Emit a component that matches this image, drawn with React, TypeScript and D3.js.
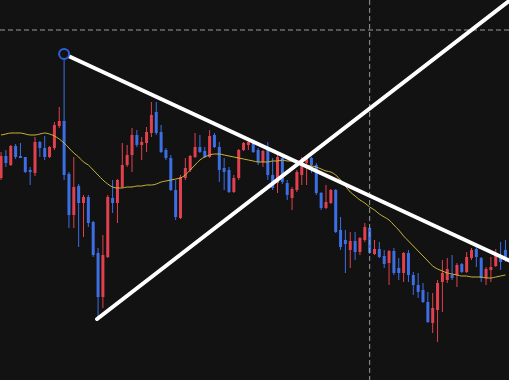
import React from "react";
import * as d3 from "d3";

// Candle data (price units), one entry per bar index
const opens = [
  222, 244, 235, 254, 244, 243, 230, 227, 258, 252,
  243, 252, 274, 279, 226, 185, 214, 197, 203, 178,
  147, 103, 143, 202, 197, 213, 235, 245, 265, 255,
  257, 267, 288, 268, 250, 242, 210, 182, 222, 230,
  243, 253, 249, 243, 265, 253, 232, 230, 208, 222,
  250, 255, 257, 250, 238, 250, 225, 217, 242, 217,
  202, 210, 225, 237, 242, 235, 207, 192, 197, 210,
  170, 160, 150, 159, 148, 160, 172, 146, 151, 144,
  137, 149, 132, 127, 147, 125, 115, 110, 98, 77,
  90, 118, 120, 125, 125, 136, 128, 142, 151, 142,
  122, 130, 134, 143, 150,
];
const closes = [
  244, 237, 254, 243, 242, 228, 228, 258, 252, 243,
  253, 275, 279, 225, 185, 213, 197, 203, 177, 145,
  103, 145, 203, 197, 220, 235, 245, 265, 255, 258,
  268, 285, 267, 248, 242, 210, 183, 223, 232, 244,
  253, 248, 243, 264, 253, 230, 228, 208, 222, 250,
  257, 258, 248, 238, 249, 225, 212, 243, 218, 205,
  211, 228, 240, 242, 235, 207, 192, 198, 210, 168,
  153, 156, 159, 148, 162, 173, 147, 151, 143, 136,
  149, 127, 127, 147, 125, 115, 108, 98, 78, 92,
  117, 127, 131, 122, 135, 128, 143, 150, 143, 122,
  131, 133, 145, 138, 143,
];
const highs = [
  248, 250, 255, 256, 257, 243, 233, 263, 259, 264,
  254, 278, 293, 346, 228, 243, 216, 205, 205, 179,
  152, 165, 205, 220, 221, 257, 255, 272, 270, 263,
  273, 298, 298, 275, 252, 245, 220, 225, 242, 245,
  267, 265, 253, 270, 267, 258, 242, 233, 225, 251,
  258, 260, 258, 252, 250, 258, 242, 245, 243, 220,
  213, 230, 243, 244, 243, 237, 208, 215, 211, 211,
  183, 170, 168, 168, 163, 177, 173, 160, 158, 150,
  150, 152, 142, 148, 150, 128, 127, 117, 108, 107,
  120, 140, 142, 145, 137, 137, 148, 152, 153, 143,
  133, 143, 151, 158, 160,
];
const lows = [
  220, 233, 234, 241, 242, 227, 215, 224, 243, 240,
  242, 250, 272, 220, 172, 172, 153, 163, 173, 143,
  83, 92, 142, 187, 177, 212, 233, 228, 253, 240,
  248, 263, 265, 247, 240, 209, 180, 181, 220, 228,
  242, 247, 242, 242, 252, 218, 210, 207, 207, 220,
  249, 250, 247, 235, 233, 220, 210, 207, 216, 200,
  190, 208, 215, 215, 227, 205, 190, 191, 196, 167,
  150, 127, 132, 140, 145, 158, 146, 145, 142, 132,
  115, 125, 120, 118, 118, 105, 102, 97, 77, 67,
  58, 88, 117, 120, 113, 127, 127, 140, 133, 118,
  115, 118, 133, 130, 138,
];
// Moving average
const movingAvg = [
  265, 266, 267, 267, 267, 266, 265, 265, 266, 267,
  266, 264, 261, 257, 252, 247, 243, 238, 235, 230,
  225, 220, 216, 213, 212, 212, 213, 213, 214, 214,
  215, 215, 216, 218, 219, 220, 221, 222, 225, 230,
  235, 240, 243, 245, 246, 246, 245, 244, 243, 242,
  241, 240, 239, 238, 238, 238, 239, 239, 240, 239,
  239, 238, 237, 235, 234, 233, 231, 229, 228, 225,
  220, 214, 208, 204, 200, 197, 193, 190, 186, 183,
  180, 175, 170, 164, 159, 154, 149, 144, 139, 134,
  131, 129, 127, 126, 125, 124, 124, 123, 123, 123,
  122, 122, 123, 124, 125,
];
// Drawn trend lines (bar index, price)
const trendDown = [
  { i: 13, p: 346 },
  { i: 105, p: 139 },
];
const trendUp = [
  { i: 19.8, p: 81 },
  { i: 105, p: 400 },
];
const crossIndex = 76;
const crossPrice = 370;
const anchorIndex = 13;

const W = 509;
const H = 380;
const BG = "#121212";
const UP = "#e0414c";
const DOWN = "#3b6fe3";

export default function App() {
  const x = d3.scaleLinear().domain([0, 104]).range([1.05, 505.45]);
  const y = d3.scaleLinear().domain([20, 400]).range([H, 0]);
  const bodyW = 3;

  const maLine = d3
    .line<number>()
    .x((_, i) => x(i))
    .y((d) => y(d))
    .curve(d3.curveMonotoneX)(movingAvg) as string;

  const seg = d3
    .line<{ i: number; p: number }>()
    .x((d) => x(d.i))
    .y((d) => y(d.p));

  return (
    <svg
      width={W}
      height={H}
      style={{ position: "fixed", left: 0, top: 0, display: "block" }}
    >
      <rect x={0} y={0} width={W} height={H} fill={BG} />
      <g>
        {opens.map((o, i) => {
          const c = closes[i];
          const col = c > o ? UP : DOWN;
          const cx = x(i);
          const top = y(Math.max(o, c));
          const bot = y(Math.min(o, c));
          return (
            <g key={i}>
              <line
                x1={cx}
                x2={cx}
                y1={y(highs[i])}
                y2={y(lows[i])}
                stroke={col}
                strokeWidth={1}
              />
              <rect
                x={cx - bodyW / 2}
                y={top}
                width={bodyW}
                height={Math.max(1, bot - top)}
                fill={col}
              />
            </g>
          );
        })}
      </g>
      <path d={maLine} fill="none" stroke="#c8b43a" strokeWidth={1} />
      <line
        x1={0}
        x2={W}
        y1={y(crossPrice)}
        y2={y(crossPrice)}
        stroke="#9a9a9a"
        strokeWidth={1}
        strokeDasharray="5 3"
      />
      <line
        x1={x(crossIndex)}
        x2={x(crossIndex)}
        y1={0}
        y2={H}
        stroke="#9a9a9a"
        strokeWidth={1}
        strokeDasharray="5 3"
      />
      <path
        d={seg(trendDown) as string}
        stroke="#ffffff"
        strokeWidth={4}
        strokeLinecap="round"
        fill="none"
      />
      <path
        d={seg(trendUp) as string}
        stroke="#ffffff"
        strokeWidth={4}
        strokeLinecap="round"
        fill="none"
      />
      <circle
        cx={x(anchorIndex)}
        cy={y(highs[anchorIndex])}
        r={5}
        fill={BG}
        stroke="#2c5fd8"
        strokeWidth={2}
      />
    </svg>
  );
}
